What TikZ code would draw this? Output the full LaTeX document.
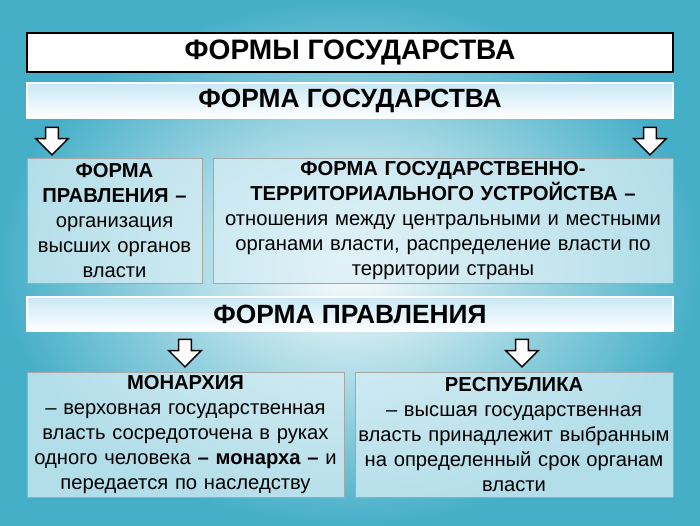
\documentclass[tikz,border=0pt]{standalone}
\usepackage{fontspec}
\setmainfont{Liberation Sans}
\usetikzlibrary{shapes.arrows}
\definecolor{sea}{RGB}{70,175,200}
\definecolor{pale}{RGB}{215,238,245}
\definecolor{band}{RGB}{200,232,245}
\tikzset{
  titlebox/.style={draw=black, line width=1.2pt, fill=white, font=\bfseries\fontsize{16}{19}\selectfont},
  bandbox/.style={draw=white, line width=0.8pt, top color=band, bottom color=white, font=\bfseries\fontsize{15}{18}\selectfont},
  textbox/.style={draw=gray!70, fill=pale, fill opacity=0.75, text opacity=1, align=center, inner sep=0pt,
    font=\fontsize{11.5}{14.2}\selectfont},
  downarrow/.style={single arrow, draw=black, thick, fill=white, shape border rotate=270,
    minimum height=0.55cm, inner sep=3.2pt, single arrow head extend=0.2cm,
    single arrow head indent=0cm}
}
\begin{document}
\begin{tikzpicture}[x=0.02cm,y=-0.02cm]
  \useasboundingbox (0,0) rectangle (700,525);
  % background
  \shade[inner color=white, outer color=sea] (0,0) rectangle (700,525);

  \node [titlebox, minimum width=12.92cm, minimum height=0.78cm] (title) at (350,52.5) {ФОРМЫ ГОСУДАРСТВА};
  \node [bandbox, minimum width=12.92cm, minimum height=0.7cm] (state) at (350,100.5) {ФОРМА ГОСУДАРСТВА};

  \node [downarrow] (arrL) at (52,138) {};
  \node [downarrow] (arrR) at (650,138) {};

  \node [textbox, minimum width=3.5cm, minimum height=2.5cm, text width=3.45cm] (rule) at (114.5,220.5)
    {\textbf{ФОРМА\\ПРАВЛЕНИЯ –}\\организация\\высших органов\\власти};
  \node [textbox, minimum width=9.2cm, minimum height=2.5cm, text width=9.1cm] (terr) at (443,220.5)
    {\textbf{ФОРМА ГОСУДАРСТВЕННО-\\ТЕРРИТОРИАЛЬНОГО УСТРОЙСТВА –}\\отношения между центральными и местными\\органами власти, распределение власти по\\территории страны};

  \node [bandbox, minimum width=12.92cm, minimum height=0.68cm] (gov) at (350,314) {ФОРМА ПРАВЛЕНИЯ};

  \node [downarrow] (arrM) at (185,350) {};
  \node [downarrow] (arrP) at (522,350) {};

  \node [textbox, minimum width=6.34cm, minimum height=2.5cm, text width=6.3cm] (mon) at (185.5,434.5)
    {\textbf{МОНАРХИЯ}\\– верховная государственная\\власть сосредоточена в руках\\одного человека \textbf{– монарха –} и\\передается по наследству};
  \node [textbox, minimum width=6.36cm, minimum height=2.5cm, text width=6.3cm] (rep) at (514,434.5)
    {\textbf{РЕСПУБЛИКА}\\– высшая государственная\\власть принадлежит выбранным\\на определенный срок органам\\власти};
\end{tikzpicture}
\end{document}
